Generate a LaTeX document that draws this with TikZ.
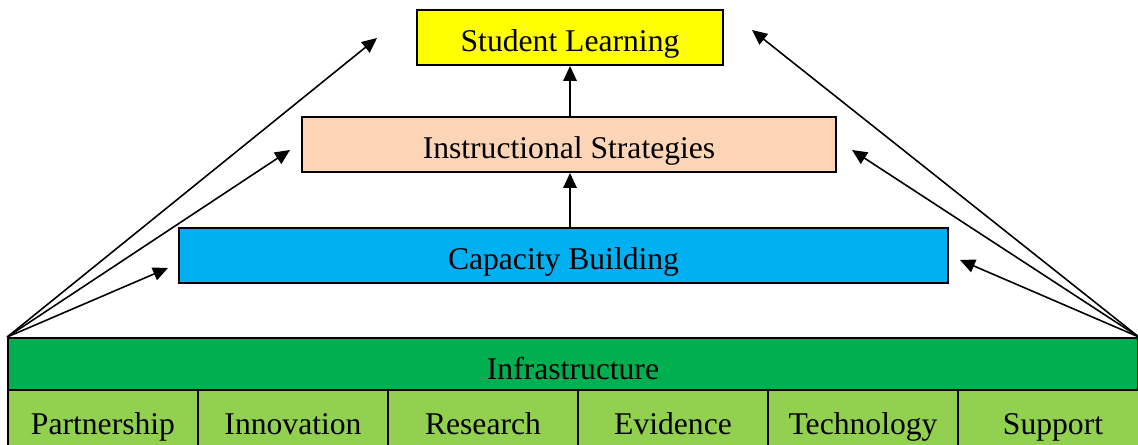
\documentclass[tikz,border=0pt]{standalone}
\usepackage{fontspec}
\setmainfont{Liberation Serif}
\usetikzlibrary{arrows.meta}
\definecolor{sunyellow}{RGB}{255,255,0}
\definecolor{peach}{RGB}{251,213,181}
\definecolor{skyblue}{RGB}{0,176,240}
\definecolor{darkgreen}{RGB}{0,176,80}
\definecolor{lightgreen}{RGB}{146,208,80}

\tikzset{
  level/.style={rectangle, draw=black, line width=1.1pt, inner sep=0pt,
    minimum height=1.1cm, text height=16pt, text depth=0pt,
    font=\fontsize{18}{21}\selectfont},
  pillar/.style={level, fill=lightgreen, minimum width=3.8cm, minimum height=1.2cm},
  link/.style={line width=0.9pt, -{Triangle[length=0.3cm, width=0.27cm]}}
}

\begin{document}
\begin{tikzpicture}[x=0.02cm, y=-0.02cm]
    \useasboundingbox (0,0) rectangle (1138,445);
    \clip (0,0) rectangle (1138,445);
    % the stacked levels
    \node[level, fill=sunyellow, minimum width=6.12cm] (learning) at (570,37.5) {Student Learning};
    \node[level, fill=peach, minimum width=10.68cm] (strategies) at (569,144.5) {Instructional Strategies};
    \node[level, fill=skyblue, minimum width=15.38cm] (capacity) at (563.5,255.5) {Capacity Building};
    \node[level, fill=darkgreen, minimum width=22.6cm, minimum height=1.08cm] (infra) at (573,365) {Infrastructure};
    % pillars under the infrastructure
    \node[pillar] (partnership) at (103,420) {Partnership};
    \node[pillar] (innovation) at (293,420) {Innovation};
    \node[pillar] (research) at (483,420) {Research};
    \node[pillar] (evidence) at (673,420) {Evidence};
    \node[pillar] (technology) at (863,420) {Technology};
    \node[pillar] (support) at (1053,420) {Support};
    % free ends of the side arrows
    \coordinate (lefttop) at (377,38);
    \coordinate (leftmid) at (290,150);
    \coordinate (leftlow) at (168,268);
    \coordinate (righttop) at (752,30);
    \coordinate (rightmid) at (852,150);
    \coordinate (rightlow) at (960,260);
    \draw[link] (learning.south |- capacity.north) -- (learning.south |- strategies.south);
    \draw[link] (learning.south |- strategies.north) -- (learning.south);
    \foreach \tip in {lefttop, leftmid, leftlow}
      \draw[link] (infra.north west) -- (\tip);
    \foreach \tip in {righttop, rightmid, rightlow}
      \draw[link] (infra.north east) -- (\tip);
  \end{tikzpicture}
\end{document}
